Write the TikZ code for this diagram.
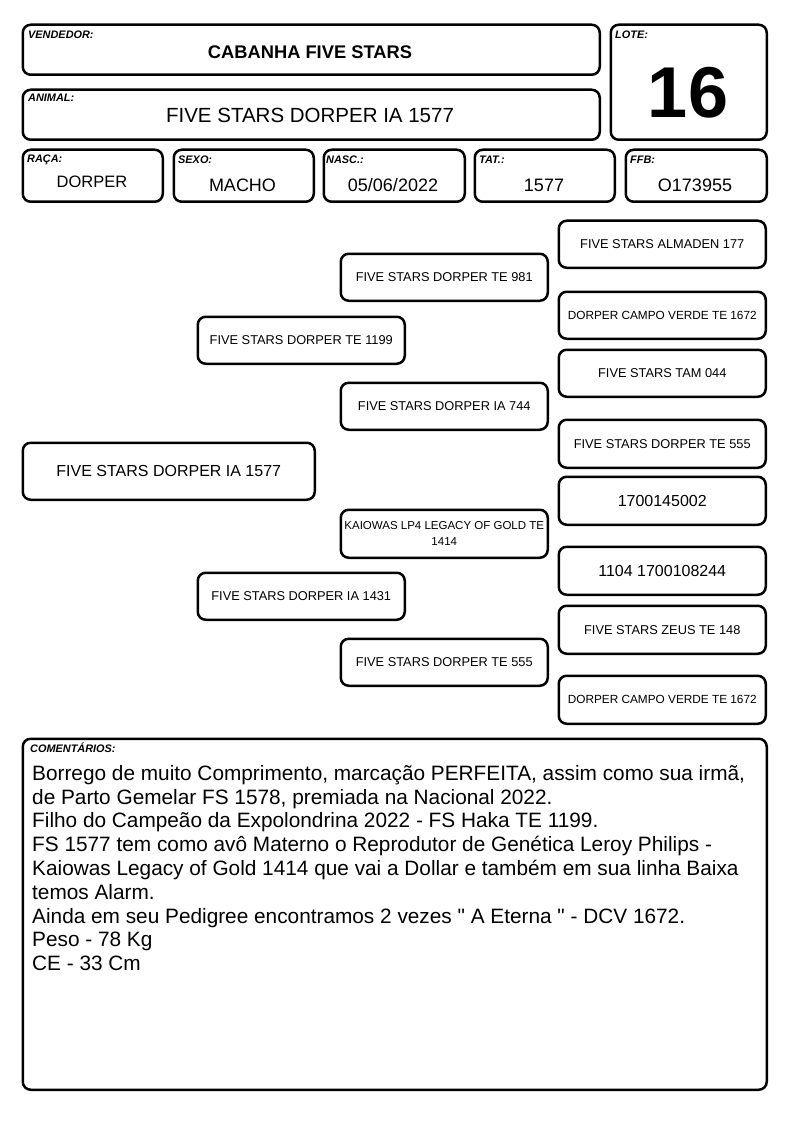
\documentclass[tikz,border=0pt]{standalone}
\usepackage{fontspec}
\setmainfont{Liberation Sans}
\newfontfamily\qfont{Liberation Sans}
\begin{document}
\begin{tikzpicture}[x=1pt,y=-1pt,
  box/.style={draw, line width=2.5pt, rounded corners=8pt, anchor=north west, inner sep=0pt, align=center},
  lbl/.style={font=\fontsize{10.9}{12}\selectfont\bfseries\itshape, anchor=base west, inner sep=0pt},
  val/.style={anchor=base, inner sep=0pt},
  ped/.style={box, minimum width=207pt, minimum height=47pt, font=\fontsize{12.8}{14}\selectfont},
  pedsm/.style={box, minimum width=207pt, minimum height=47pt, font=\fontsize{11.8}{14}\selectfont},
  pedbig/.style={box, minimum width=207pt, minimum height=47pt, font=\fontsize{16}{18}\selectfont}
]
\useasboundingbox (0,0) rectangle (794,1123);
% header boxes
\node[box, minimum width=577pt, minimum height=50pt] (vend) at (21.5,23.5) {};
\node[box, minimum width=577pt, minimum height=50pt] (anim) at (21.5,88.5) {};
\node[box, minimum width=156pt, minimum height=115pt] (lote) at (609.5,23.5) {};
\node[box, minimum width=140pt, minimum height=52pt] (raca) at (21.5,148.5) {};
\node[box, minimum width=140pt, minimum height=52pt] (sexo) at (172.5,148.5) {};
\node[box, minimum width=141pt, minimum height=52pt] (nasc) at (322.5,148.5) {};
\node[box, minimum width=140pt, minimum height=52pt] (tat) at (473.5,148.5) {};
\node[box, minimum width=141pt, minimum height=52pt] (ffb) at (624.5,148.5) {};
% labels
\node[lbl] (vendl) at (28,39) {VENDEDOR:};
\node[lbl] (animl) at (28,102) {ANIMAL:};
\node[lbl] (lotel) at (615,39) {LOTE:};
\node[lbl] (racal) at (27,163) {RAÇA:};
\node[lbl] (sexol) at (178,164) {SEXO:};
\node[lbl] (nascl) at (326,164) {NASC.:};
\node[lbl] (tatl) at (479,164) {TAT.:};
\node[lbl] (ffbl) at (630,164) {FFB:};
% values
\node[val, font=\fontsize{18.3}{20}\selectfont\bfseries] (vendv) at (310,59) {CABANHA FIVE STARS};
\node[val, font=\fontsize{20.5}{22}\selectfont] (animv) at (310,123) {FIVE STARS DORPER IA 1577};
\node[val, font=\fontsize{72}{74}\selectfont\bfseries] (lotev) at (688,118) {16};
\node[val, font=\fontsize{16.5}{18}\selectfont] (racav) at (92,188) {DORPER};
\node[val, font=\fontsize{18}{20}\selectfont] (sexov) at (242.5,192) {MACHO};
\node[val, font=\fontsize{18}{20}\selectfont] (nascv) at (393,192) {05/06/2022};
\node[val, font=\fontsize{18}{20}\selectfont] (tatv) at (544,192) {1577};
\node[val, font=\fontsize{18}{20}\selectfont] (ffbv) at (695,192) {O173955};
% pedigree
\node[box, minimum width=292pt, minimum height=57pt, font=\fontsize{16}{18}\selectfont] (p0) at (21.5,441.5) {FIVE STARS DORPER IA 1577};
\node[ped] (s) at (196.5,315.5) {FIVE STARS DORPER TE 1199};
\node[ped] (d) at (196.5,571.5) {FIVE STARS DORPER IA 1431};
\node[ped] (ss) at (339.5,252.5) {FIVE STARS DORPER TE 981};
\node[ped] (sd) at (339.5,381.5) {FIVE STARS DORPER IA 744};
\node[box, minimum width=207pt, minimum height=48pt, font=\fontsize{11.5}{16}\selectfont] (ds) at (339.5,508.5) {KAIOWAS LP4 LEGACY OF GOLD TE\\1414};
\node[ped] (dd) at (339.5,637.5) {FIVE STARS DORPER TE 555};
\node[ped] (r1) at (557.5,219.5) {FIVE STARS ALMADEN 177};
\node[pedsm] (r2) at (557.5,290.5) {DORPER CAMPO VERDE TE 1672};
\node[ped] (r3) at (557.5,348.5) {FIVE STARS TAM 044};
\node[ped, minimum height=48pt] (r4) at (557.5,418.5) {FIVE STARS DORPER TE 555};
\node[pedbig, minimum height=48pt] (r5) at (557.5,475.5) {1700145002};
\node[pedbig, minimum height=48pt] (r6) at (557.5,545.5) {1104 1700108244};
\node[ped, minimum height=48pt] (r7) at (557.5,604.5) {FIVE STARS ZEUS TE 148};
\node[pedsm, minimum height=48pt] (r8) at (557.5,674.5) {DORPER CAMPO VERDE TE 1672};
% comments
\node[box, minimum width=744pt, minimum height=351pt] (com) at (21.5,737.5) {};
\node[lbl] (coml) at (30,752) {COMENTÁRIOS:};
\node[anchor=north west, inner sep=0pt, align=left, font=\qfont\fontsize{20.8}{23.8}\selectfont] (comt) at (32,763) {\rule{0pt}{17pt}Borrego de muito Comprimento, marcação PERFEITA, assim como sua irmã,\\
de Parto Gemelar FS 1578, premiada na Nacional 2022.\\
Filho do Campeão da Expolondrina 2022 - FS Haka TE 1199.\\
FS 1577 tem como avô Materno o Reprodutor de Genética Leroy Philips -\\
Kaiowas Legacy of Gold 1414 que vai a Dollar e também em sua linha Baixa\\
temos Alarm.\\
Ainda em seu Pedigree encontramos 2 vezes " A Eterna " - DCV 1672.\\
Peso - 78 Kg\\
CE - 33 Cm};
\end{tikzpicture}
\end{document}
